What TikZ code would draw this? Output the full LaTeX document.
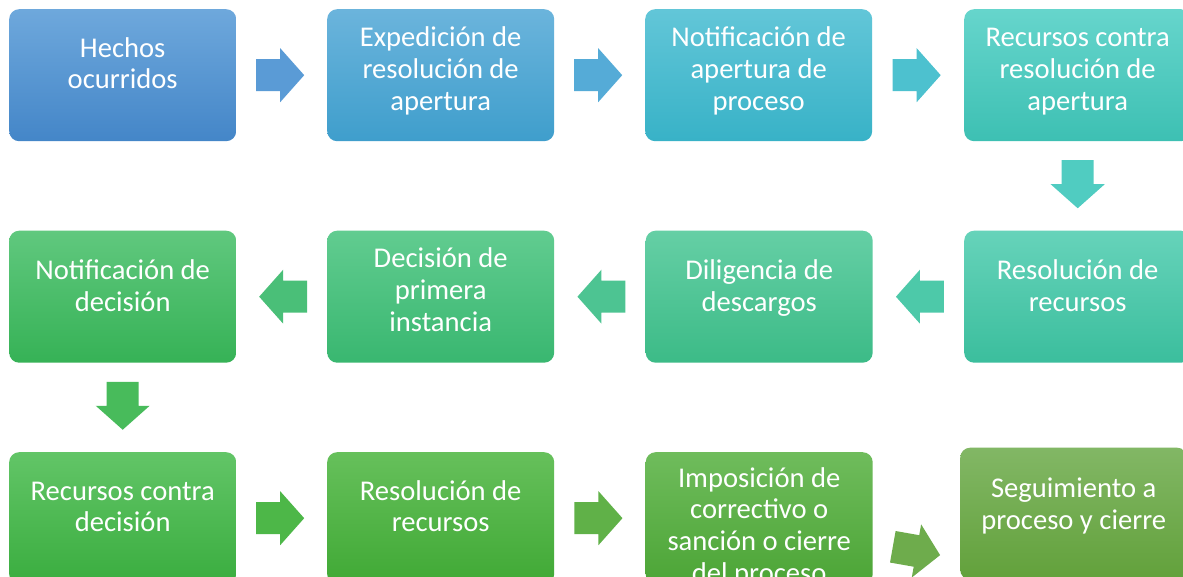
\documentclass[tikz,border=0pt]{standalone}
\usepackage{fontspec}
\setmainfont{Carlito}
\usetikzlibrary{calc}
\definecolor{c1t}{HTML}{6EA8DC}\definecolor{c1b}{HTML}{4486C8}
\definecolor{c2t}{HTML}{6BB4DC}\definecolor{c2b}{HTML}{3F9ECC}
\definecolor{c3t}{HTML}{62C6D8}\definecolor{c3b}{HTML}{38B2C7}
\definecolor{c4t}{HTML}{66D5CC}\definecolor{c4b}{HTML}{3DC0B3}
\definecolor{c5t}{HTML}{66D3BA}\definecolor{c5b}{HTML}{3BBE9D}
\definecolor{c6t}{HTML}{65CFA5}\definecolor{c6b}{HTML}{3CBB87}
\definecolor{c7t}{HTML}{61CC90}\definecolor{c7b}{HTML}{39B770}
\definecolor{c8t}{HTML}{60C87E}\definecolor{c8b}{HTML}{36B256}
\definecolor{c9t}{HTML}{62C567}\definecolor{c9b}{HTML}{3AAD3F}
\definecolor{c10t}{HTML}{66C05B}\definecolor{c10b}{HTML}{40A935}
\definecolor{c11t}{HTML}{6FBC5C}\definecolor{c11b}{HTML}{4CA536}
\definecolor{c12t}{HTML}{82B765}\definecolor{c12b}{HTML}{62A13B}
\definecolor{ar1}{HTML}{5A9BD6}\definecolor{ar2}{HTML}{55ABD7}
\definecolor{ar3}{HTML}{4DC1CF}\definecolor{ar4}{HTML}{50CCC1}
\definecolor{ar5}{HTML}{4DC9A9}\definecolor{ar6}{HTML}{4DC492}
\definecolor{ar7}{HTML}{4ABF78}\definecolor{ar8}{HTML}{48BB5B}
\definecolor{ar9}{HTML}{4DB748}\definecolor{ar10}{HTML}{60B148}
\definecolor{ar11}{HTML}{6EAC4C}
\tikzset{
  box/.style={rounded corners=10pt, minimum width=227pt, minimum height=132pt,
    inner sep=0pt, anchor=north west, draw=none},
  txt/.style={text=white, font=\fontsize{28.6}{31.8}\selectfont, align=center,
    anchor=north, inner sep=0pt},
}
\newcommand\blockarr[3]{\fill[#3, shift={(#1)}, rotate=#2]
  (-24,-16) -- (0,-16) -- (0,-27) -- (24,0) -- (0,27) -- (0,16) -- (-24,16) -- cycle;}
\begin{document}
\begin{tikzpicture}[x=1pt,y=-1pt]
\clip (0,0) rectangle (1183,577);
\fill[white] (0,0) rectangle (1183,577);
% boxes
\node[box, top color=c1t, bottom color=c1b] (b1) at (9,9) {};
\node[box, top color=c2t, bottom color=c2b] (b2) at (327,9) {};
\node[box, top color=c3t, bottom color=c3b] (b3) at (645,9) {};
\node[box, top color=c4t, bottom color=c4b] (b4) at (964,9) {};
\node[box, top color=c5t, bottom color=c5b] (b5) at (964,230.5) {};
\node[box, top color=c6t, bottom color=c6b] (b6) at (645.5,230.5) {};
\node[box, top color=c7t, bottom color=c7b] (b7) at (327,230.5) {};
\node[box, top color=c8t, bottom color=c8b] (b8) at (9,230.5) {};
\node[box, top color=c9t, bottom color=c9b] (b9) at (9,452) {};
\node[box, top color=c10t, bottom color=c10b] (b10) at (327,452) {};
\node[box, top color=c11t, bottom color=c11b] (b11) at (645.5,452) {};
\node[box, top color=c12t, bottom color=c12b] (b12) at (960,447.5) {};
% texts
\node[txt] (t1) at ($(b1.north)+(0,25.7)$) {\strut Hechos\\\strut ocurridos};
\node[txt] (t2) at ($(b2.north)+(0,15.4)$) {\strut Expedición de\\\strut resolución de\\\strut apertura};
\node[txt] (t3) at ($(b3.north)+(0,15.4)$) {\strut Notificación de\\\strut apertura de\\\strut proceso};
\node[txt] (t4) at ($(b4.north)+(0,15.4)$) {\strut Recursos contra\\\strut resolución de\\\strut apertura};
\node[txt] (t5) at ($(b5.north)+(0,26.5)$) {\strut Resolución de\\\strut recursos};
\node[txt] (t6) at ($(b6.north)+(0,26.5)$) {\strut Diligencia de\\\strut descargos};
\node[txt] (t7) at ($(b7.north)+(0,14.9)$) {\strut Decisión de\\\strut primera\\\strut instancia};
\node[txt] (t8) at ($(b8.north)+(0,26.5)$) {\strut Notificación de\\\strut decisión};
\node[txt] (t9) at ($(b9.north)+(0,25.7)$) {\strut Recursos contra\\\strut decisión};
\node[txt] (t10) at ($(b10.north)+(0,25.7)$) {\strut Resolución de\\\strut recursos};
\node[txt] (t11) at ($(b11.north)+(0,12.7)$) {\strut Imposición de\\\strut correctivo o\\\strut sanción o cierre\\\strut del proceso};
\node[txt] (t12) at ($(b12.north)+(0,27.7)$) {\strut Seguimiento a\\\strut proceso y cierre};
% arrow positions
\coordinate (a1) at ($(b1.east)!0.5!(b2.west)+(-1.5,0)$);
\coordinate (a2) at ($(b2.east)!0.5!(b3.west)+(-1.5,0)$);
\coordinate (a3) at ($(b3.east)!0.5!(b4.west)+(-1.5,0)$);
\coordinate (d1) at ($(b4.south)!0.5!(b5.north)+(0,-1.7)$);
\coordinate (a4) at ($(b5.west)!0.5!(b6.east)+(1.5,0)$);
\coordinate (a5) at ($(b6.west)!0.5!(b7.east)+(1.5,0)$);
\coordinate (a6) at ($(b7.west)!0.5!(b8.east)+(1.5,0)$);
\coordinate (d2) at ($(b8.south)!0.5!(b9.north)+(0,-1.7)$);
\coordinate (a7) at ($(b9.east)!0.5!(b10.west)+(-1.5,0)$);
\coordinate (a8) at ($(b10.east)!0.5!(b11.west)+(-1.5,0)$);
\coordinate (a9) at ($(b11.east)!0.5!(b12.west)+(0,35)$);
% arrows
\blockarr{a1}{0}{ar1}
\blockarr{a2}{0}{ar2}
\blockarr{a3}{0}{ar3}
\blockarr{d1}{-90}{ar4}
\blockarr{a4}{180}{ar5}
\blockarr{a5}{180}{ar6}
\blockarr{a6}{180}{ar7}
\blockarr{d2}{-90}{ar8}
\blockarr{a7}{0}{ar9}
\blockarr{a8}{0}{ar10}
\blockarr{a9}{-10}{ar11}
\end{tikzpicture}
\end{document}
